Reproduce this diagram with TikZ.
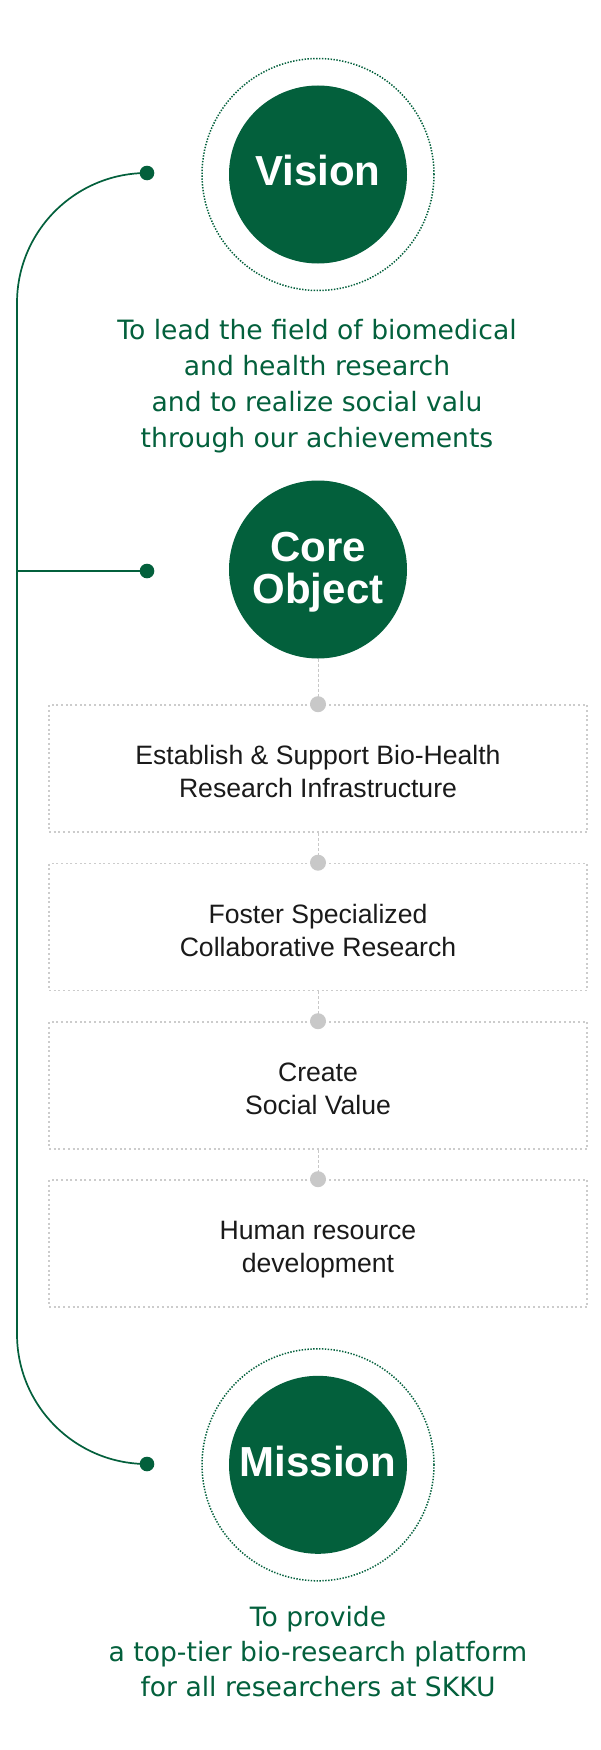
\documentclass[tikz,border=0pt]{standalone}
\usepackage{fontspec}
\setmainfont{Liberation Sans}
\newfontfamily\dejavu{DejaVu Sans}
\definecolor{skkugreen}{RGB}{3,96,60}
\definecolor{boxgray}{RGB}{204,204,204}
\definecolor{dotgray}{RGB}{200,200,200}
\definecolor{inkblack}{RGB}{26,26,26}
\begin{document}
\begin{tikzpicture}[x=1pt,y=-1pt,
  bigcircle/.style={circle, fill=skkugreen, minimum size=178pt, inner sep=0pt, text=white,
    font=\bfseries\fontsize{42}{42}\selectfont, align=center},
  ring/.style={circle, draw=skkugreen, line width=1.5pt, dash pattern=on 1.4pt off 1.5pt,
    minimum size=232pt, inner sep=0pt},
  gdot/.style={circle, fill=skkugreen, minimum size=14.6pt, inner sep=0pt},
  graydot/.style={circle, fill=dotgray, minimum size=16pt, inner sep=0pt},
  objbox/.style={rectangle, draw=boxgray, line width=1.6pt, dash pattern=on 2pt off 2.7pt,
    minimum width=538pt, minimum height=127pt, inner sep=0pt},
  objtext/.style={text=inkblack, font=\fontsize{26.6}{33}\selectfont, align=center, inner sep=0pt},
  greentext/.style={text=skkugreen, font=\dejavu\fontsize{26.6}{36}\selectfont, align=center, inner sep=0pt},
  spine/.style={draw=skkugreen, line width=1.7pt},
  link/.style={draw=dotgray, line width=1pt, dash pattern=on 3pt off 2pt}
]
\fill[white] (0,0) rectangle (600,1750);
\useasboundingbox (0,0) rectangle (600,1750);

% circles
\node[ring] (visionring) at (318,174.5) {};
\node[bigcircle, text height=22.5pt, text depth=0pt] (vision) at (318,174.5) {Vision};
\node[bigcircle] (core) at (318,569.5) {\rule{0pt}{38.4pt}Core\\Object\strut};
\node[ring] (missionring) at (318,1464.8) {};
\node[bigcircle, text height=22.5pt, text depth=0pt] (mission) at (318,1464.8) {Mission};

% green statements
\node[greentext] (visiontext) at (317,385.8)
  {\strut To lead the field of biomedical\\and health research\\and to realize social valu\\through our achievements\strut};
\node[greentext, font=\dejavu\fontsize{26.6}{35}\selectfont] (missiontext) at (318,1654)
  {\strut To provide\\a top-tier bio-research platform\\for all researchers at SKKU\strut};

% left spine
\node[gdot] (vdot) at (147,173) {};
\node[gdot] (cdot) at (147,571) {};
\node[gdot] (mdot) at (147,1464) {};
\coordinate (spinetop) at (17,303);
\coordinate (spinebot) at (17,1334);
\draw[spine] (vdot.center) .. controls (75.2,173) and (17,231.2) .. (spinetop)
  -- (spinebot) .. controls (17,1405.8) and (75.2,1464) .. (mdot.center);
\draw[spine] (cdot.center) -- (cdot.center -| spinetop);

% objective boxes
\node[objbox] (b1) at (318,768.5) {};
\node[objbox] (b2) at (318,927) {};
\node[objbox] (b3) at (318,1085.5) {};
\node[objbox] (b4) at (318,1243.5) {};
\node[objtext] (t1) at (318,774.4) {\strut Establish \& Support Bio-Health\\Research Infrastructure\strut};
\node[objtext] (t2) at (318,932.9) {\strut Foster Specialized\\Collaborative Research\strut};
\node[objtext] (t3) at (318,1091.4) {\strut Create\\Social Value\strut};
\node[objtext] (t4) at (318,1249.4) {\strut Human resource\\development\strut};

% connectors and gray dots
\coordinate (g1c) at (b1.north);
\coordinate (g2c) at (b2.north);
\coordinate (g3c) at (b3.north);
\coordinate (g4c) at (b4.north);
\draw[link] (core.south) -- (g1c);
\draw[link] (b1.south) -- (g2c);
\draw[link] (b2.south) -- (g3c);
\draw[link] (b3.south) -- (g4c);
\node[graydot] (g1) at (g1c) {};
\node[graydot] (g2) at (g2c) {};
\node[graydot] (g3) at (g3c) {};
\node[graydot] (g4) at (g4c) {};
\end{tikzpicture}
\end{document}
